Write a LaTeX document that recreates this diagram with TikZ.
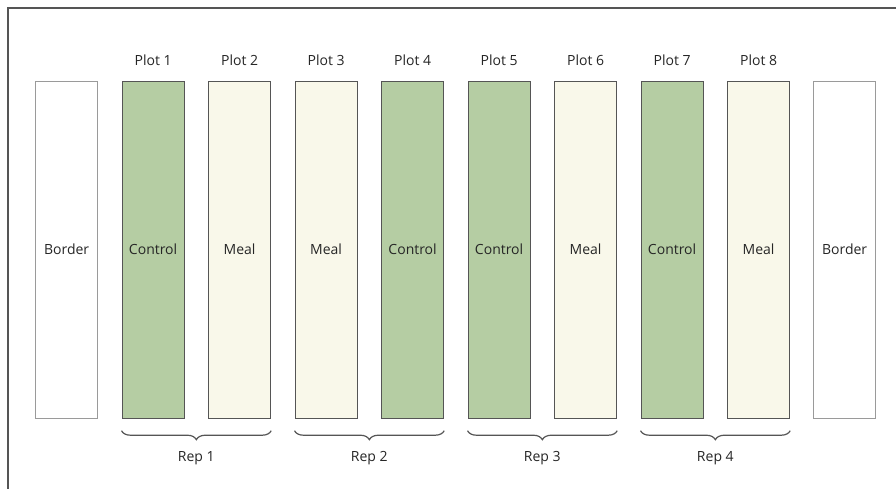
\documentclass[tikz,border=0pt]{standalone}
\usepackage{fontspec}
\setmainfont{Open Sans}
\usetikzlibrary{decorations.pathreplacing,calc}
\definecolor{ctrlgreen}{HTML}{B5CDA3}
\definecolor{mealcream}{HTML}{F9F8EA}
\definecolor{edgedark}{HTML}{555555}
\definecolor{edgelight}{HTML}{9A9A9A}
\definecolor{txt}{HTML}{262626}
\begin{document}
\begin{tikzpicture}[x=1pt,y=-1pt,
  plotbox/.style={draw=edgedark,line width=1.2pt,minimum width=62pt,minimum height=337pt,inner sep=0pt,anchor=north west,text=txt,font=\fontsize{14}{16}\selectfont},
  ctrl/.style={plotbox,fill=ctrlgreen},
  meal/.style={plotbox,fill=mealcream},
  bord/.style={plotbox,draw=edgelight,fill=white},
  lbl/.style={text=txt,font=\fontsize{14}{16}\selectfont,inner sep=0pt},
  repbrace/.style={draw=edgedark,line width=1.2pt,decorate,decoration={brace,mirror,amplitude=9pt,aspect=0.5}}
]
\useasboundingbox (0,0) rectangle (896,488);
\fill[white] (0,0) rectangle (896,488);
\draw[edgedark,line width=1.4pt] (8,492) -- (8,8) -- (900,8);
\node[bord] (b0) at (35,80.5) {Border};
\node[ctrl] (p1) at (121.5,80.5) {Control};
\node[meal] (p2) at (208,80.5) {Meal};
\node[meal] (p3) at (294.5,80.5) {Meal};
\node[ctrl] (p4) at (381,80.5) {Control};
\node[ctrl] (p5) at (467.5,80.5) {Control};
\node[meal] (p6) at (554,80.5) {Meal};
\node[ctrl] (p7) at (640.5,80.5) {Control};
\node[meal] (p8) at (727,80.5) {Meal};
\node[bord] (b9) at (813,80.5) {Border};
\foreach \i in {1,...,8}{
  \node[lbl] (t\i) at ([yshift=20pt]p\i.north) {Plot \i};
}
\foreach \a/\b/\r in {1/2/1,3/4/2,5/6/3,7/8/4}{
  \draw[repbrace] ([yshift=-12pt]p\a.south west) -- ([yshift=-12pt]p\b.south east);
  \node[lbl] (r\r) at ($(p\a.south west)!0.5!(p\b.south east)+(0,39)$) {Rep \r};
}
\end{tikzpicture}
\end{document}
